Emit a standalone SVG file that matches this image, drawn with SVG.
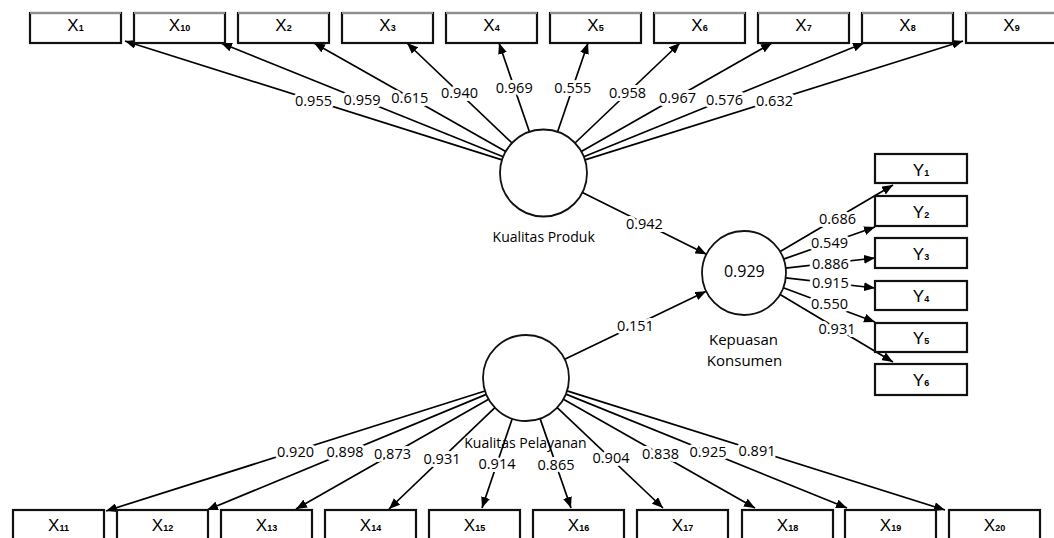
<svg xmlns="http://www.w3.org/2000/svg" width="1054" height="538" viewBox="0 0 1054 538">
<defs>
<marker id="arr" markerUnits="userSpaceOnUse" markerWidth="11" markerHeight="9" refX="11" refY="4.5" orient="auto">
<path d="M0,0 L11,4.5 L0,9 z" fill="#000"/>
</marker>
<style>
.box{fill:#fff;stroke:#111;stroke-width:2.2}
.topedge{stroke:#b8b8b8;stroke-width:1.6}
.lat{fill:#fff;stroke:#111;stroke-width:1.8}
.lbl{font-family:"Liberation Sans",Arial,sans-serif;font-size:17px;fill:#000;text-anchor:middle}
.sub{font-size:9px;font-weight:bold}
.edge{stroke:#000;stroke-width:1.7;fill:none;marker-end:url(#arr)}
.val{font-family:"Open Sans","Noto Sans",sans-serif;font-size:14.5px;fill:#000;text-anchor:middle;stroke:#fff;stroke-width:6;paint-order:stroke;stroke-linejoin:round}
.name{font-family:"Open Sans","Noto Sans",sans-serif;font-size:14px;fill:#000;text-anchor:middle}
</style>
</defs>
<rect width="1054" height="538" fill="#fff"/>

<g id="connectors">
<line class="edge" x1="502.0" y1="159.9" x2="125" y2="41"/>
<line class="edge" x1="503.2" y1="156.7" x2="221" y2="43"/>
<line class="edge" x1="505.7" y1="151.6" x2="314" y2="43"/>
<line class="edge" x1="512.0" y1="143.0" x2="407" y2="43"/>
<line class="edge" x1="529.4" y1="131.8" x2="499" y2="43"/>
<line class="edge" x1="557.6" y1="131.8" x2="588" y2="43"/>
<line class="edge" x1="575.0" y1="143.0" x2="680" y2="43"/>
<line class="edge" x1="581.3" y1="151.5" x2="772" y2="43"/>
<line class="edge" x1="583.8" y1="156.7" x2="864" y2="43"/>
<line class="edge" x1="585.0" y1="159.9" x2="963" y2="41"/>

<line class="edge" x1="485.0" y1="391.0" x2="106" y2="511"/>
<line class="edge" x1="486.3" y1="394.4" x2="207" y2="510"/>
<line class="edge" x1="488.6" y1="399.3" x2="296" y2="509"/>
<line class="edge" x1="494.9" y1="407.7" x2="389" y2="509"/>
<line class="edge" x1="512.2" y1="418.7" x2="482" y2="508"/>
<line class="edge" x1="540.1" y1="418.6" x2="571" y2="508"/>
<line class="edge" x1="557.2" y1="407.6" x2="663" y2="508"/>
<line class="edge" x1="563.4" y1="399.2" x2="755" y2="508"/>
<line class="edge" x1="565.9" y1="394.1" x2="847" y2="508"/>
<line class="edge" x1="567.0" y1="390.9" x2="945" y2="510"/>

<line class="edge" x1="582.4" y1="192.4" x2="706.4" y2="254.3"/>
<line class="edge" x1="564.7" y1="359.3" x2="706.2" y2="291.2"/>

<line class="edge" x1="780.2" y1="251.6" x2="893" y2="185"/>
<line class="edge" x1="783.6" y1="259.1" x2="875" y2="227"/>
<line class="edge" x1="785.7" y1="268.2" x2="875" y2="258"/>
<line class="edge" x1="785.7" y1="277.8" x2="875" y2="288"/>
<line class="edge" x1="783.3" y1="287.7" x2="875" y2="322"/>
<line class="edge" x1="780.1" y1="294.5" x2="893" y2="362"/>

<g id="loadings">
<text class="val" x="313.5" y="105.5">0.955</text>
<text class="val" x="362.1" y="105">0.959</text>
<text class="val" x="409.8" y="102.5">0.615</text>
<text class="val" x="459.5" y="98">0.940</text>
<text class="val" x="514.2" y="92.5">0.969</text>
<text class="val" x="572.8" y="92.5">0.555</text>
<text class="val" x="627.5" y="98">0.958</text>
<text class="val" x="677.5" y="103">0.967</text>
<text class="val" x="724.5" y="105">0.576</text>
<text class="val" x="774.5" y="105.5">0.632</text>

<text class="val" x="295.5" y="456.5">0.920</text>
<text class="val" x="345" y="456.5">0.898</text>
<text class="val" x="392.5" y="459">0.873</text>
<text class="val" x="442" y="463.5">0.931</text>
<text class="val" x="497" y="468.5">0.914</text>
<text class="val" x="556" y="469.5">0.865</text>
<text class="val" x="611" y="463">0.904</text>
<text class="val" x="660.5" y="458.5">0.838</text>
<text class="val" x="708" y="456.5">0.925</text>
<text class="val" x="757" y="455.5">0.891</text>

<text class="val" x="644.4" y="228.5">0.942</text>
<text class="val" x="635.4" y="331">0.151</text>

<text class="val" x="837.5" y="224">0.686</text>
<text class="val" x="829.5" y="248">0.549</text>
<text class="val" x="830.4" y="268.5">0.886</text>
<text class="val" x="830.4" y="288">0.915</text>
<text class="val" x="829.5" y="308.5">0.550</text>
<text class="val" x="837" y="334">0.931</text>
</g>
</g>

<g id="kualitas-produk">
<circle class="lat" cx="543.5" cy="173" r="43.5"/>
<text class="name" x="543.7" y="242">Kualitas Produk</text>
</g>
<g id="kualitas-pelayanan">
<circle class="lat" cx="526" cy="378" r="43"/>
<text class="name" x="525.5" y="448">Kualitas Pelayanan</text>
</g>
<g id="kepuasan-konsumen">
<circle class="lat" cx="744" cy="273" r="42"/>
<text class="name" x="744.3" y="276.5" style="font-size:16px">0.929</text>
<text class="name" x="743.5" y="345" style="font-size:15px">Kepuasan</text>
<text class="name" x="744.5" y="365.5" style="font-size:15px">Konsumen</text>
</g>

<g id="X1"><rect class="box" x="30" y="13" width="91" height="30"/><line class="topedge" x1="30" y1="13" x2="121" y2="13"/><text class="lbl" x="75.5" y="31">X<tspan class="sub">1</tspan></text></g>
<g id="X10"><rect class="box" x="134" y="13" width="91" height="30"/><line class="topedge" x1="134" y1="13" x2="225" y2="13"/><text class="lbl" x="179.5" y="31">X<tspan class="sub">10</tspan></text></g>
<g id="X2"><rect class="box" x="238" y="13" width="91" height="30"/><line class="topedge" x1="238" y1="13" x2="329" y2="13"/><text class="lbl" x="283.5" y="31">X<tspan class="sub">2</tspan></text></g>
<g id="X3"><rect class="box" x="342" y="13" width="91" height="30"/><line class="topedge" x1="342" y1="13" x2="433" y2="13"/><text class="lbl" x="387.5" y="31">X<tspan class="sub">3</tspan></text></g>
<g id="X4"><rect class="box" x="446" y="13" width="91" height="30"/><line class="topedge" x1="446" y1="13" x2="537" y2="13"/><text class="lbl" x="491.5" y="31">X<tspan class="sub">4</tspan></text></g>
<g id="X5"><rect class="box" x="550" y="13" width="91" height="30"/><line class="topedge" x1="550" y1="13" x2="641" y2="13"/><text class="lbl" x="595.5" y="31">X<tspan class="sub">5</tspan></text></g>
<g id="X6"><rect class="box" x="654" y="13" width="91" height="30"/><line class="topedge" x1="654" y1="13" x2="745" y2="13"/><text class="lbl" x="699.5" y="31">X<tspan class="sub">6</tspan></text></g>
<g id="X7"><rect class="box" x="758" y="13" width="91" height="30"/><line class="topedge" x1="758" y1="13" x2="849" y2="13"/><text class="lbl" x="803.5" y="31">X<tspan class="sub">7</tspan></text></g>
<g id="X8"><rect class="box" x="862" y="13" width="91" height="30"/><line class="topedge" x1="862" y1="13" x2="953" y2="13"/><text class="lbl" x="907.5" y="31">X<tspan class="sub">8</tspan></text></g>
<g id="X9"><rect class="box" x="966" y="13" width="91" height="30"/><line class="topedge" x1="966" y1="13" x2="1057" y2="13"/><text class="lbl" x="1011.5" y="31">X<tspan class="sub">9</tspan></text></g>

<g id="X11"><rect class="box" x="13" y="510" width="91" height="32"/><text class="lbl" x="58.5" y="531">X<tspan class="sub">11</tspan></text></g>
<g id="X12"><rect class="box" x="117" y="510" width="91" height="32"/><text class="lbl" x="162.5" y="531">X<tspan class="sub">12</tspan></text></g>
<g id="X13"><rect class="box" x="221" y="510" width="91" height="32"/><text class="lbl" x="266.5" y="531">X<tspan class="sub">13</tspan></text></g>
<g id="X14"><rect class="box" x="325" y="510" width="91" height="32"/><text class="lbl" x="370.5" y="531">X<tspan class="sub">14</tspan></text></g>
<g id="X15"><rect class="box" x="429" y="510" width="91" height="32"/><text class="lbl" x="474.5" y="531">X<tspan class="sub">15</tspan></text></g>
<g id="X16"><rect class="box" x="533" y="510" width="91" height="32"/><text class="lbl" x="578.5" y="531">X<tspan class="sub">16</tspan></text></g>
<g id="X17"><rect class="box" x="637" y="510" width="91" height="32"/><text class="lbl" x="682.5" y="531">X<tspan class="sub">17</tspan></text></g>
<g id="X18"><rect class="box" x="742" y="510" width="91" height="32"/><text class="lbl" x="787.5" y="531">X<tspan class="sub">18</tspan></text></g>
<g id="X19"><rect class="box" x="845" y="510" width="91" height="32"/><text class="lbl" x="890.5" y="531">X<tspan class="sub">19</tspan></text></g>
<g id="X20"><rect class="box" x="949" y="510" width="91" height="32"/><text class="lbl" x="994.5" y="531">X<tspan class="sub">20</tspan></text></g>

<g id="Y1"><rect class="box" x="875" y="154" width="92" height="29"/><text class="lbl" x="921" y="176">Y<tspan class="sub">1</tspan></text></g>
<g id="Y2"><rect class="box" x="875" y="196" width="92" height="30"/><text class="lbl" x="921" y="218">Y<tspan class="sub">2</tspan></text></g>
<g id="Y3"><rect class="box" x="875" y="238" width="92" height="30"/><text class="lbl" x="921" y="260">Y<tspan class="sub">3</tspan></text></g>
<g id="Y4"><rect class="box" x="875" y="281" width="92" height="29"/><text class="lbl" x="921" y="302">Y<tspan class="sub">4</tspan></text></g>
<g id="Y5"><rect class="box" x="875" y="323" width="92" height="29"/><text class="lbl" x="921" y="344">Y<tspan class="sub">5</tspan></text></g>
<g id="Y6"><rect class="box" x="875" y="364" width="92" height="31"/><text class="lbl" x="921" y="386">Y<tspan class="sub">6</tspan></text></g>
</svg>
